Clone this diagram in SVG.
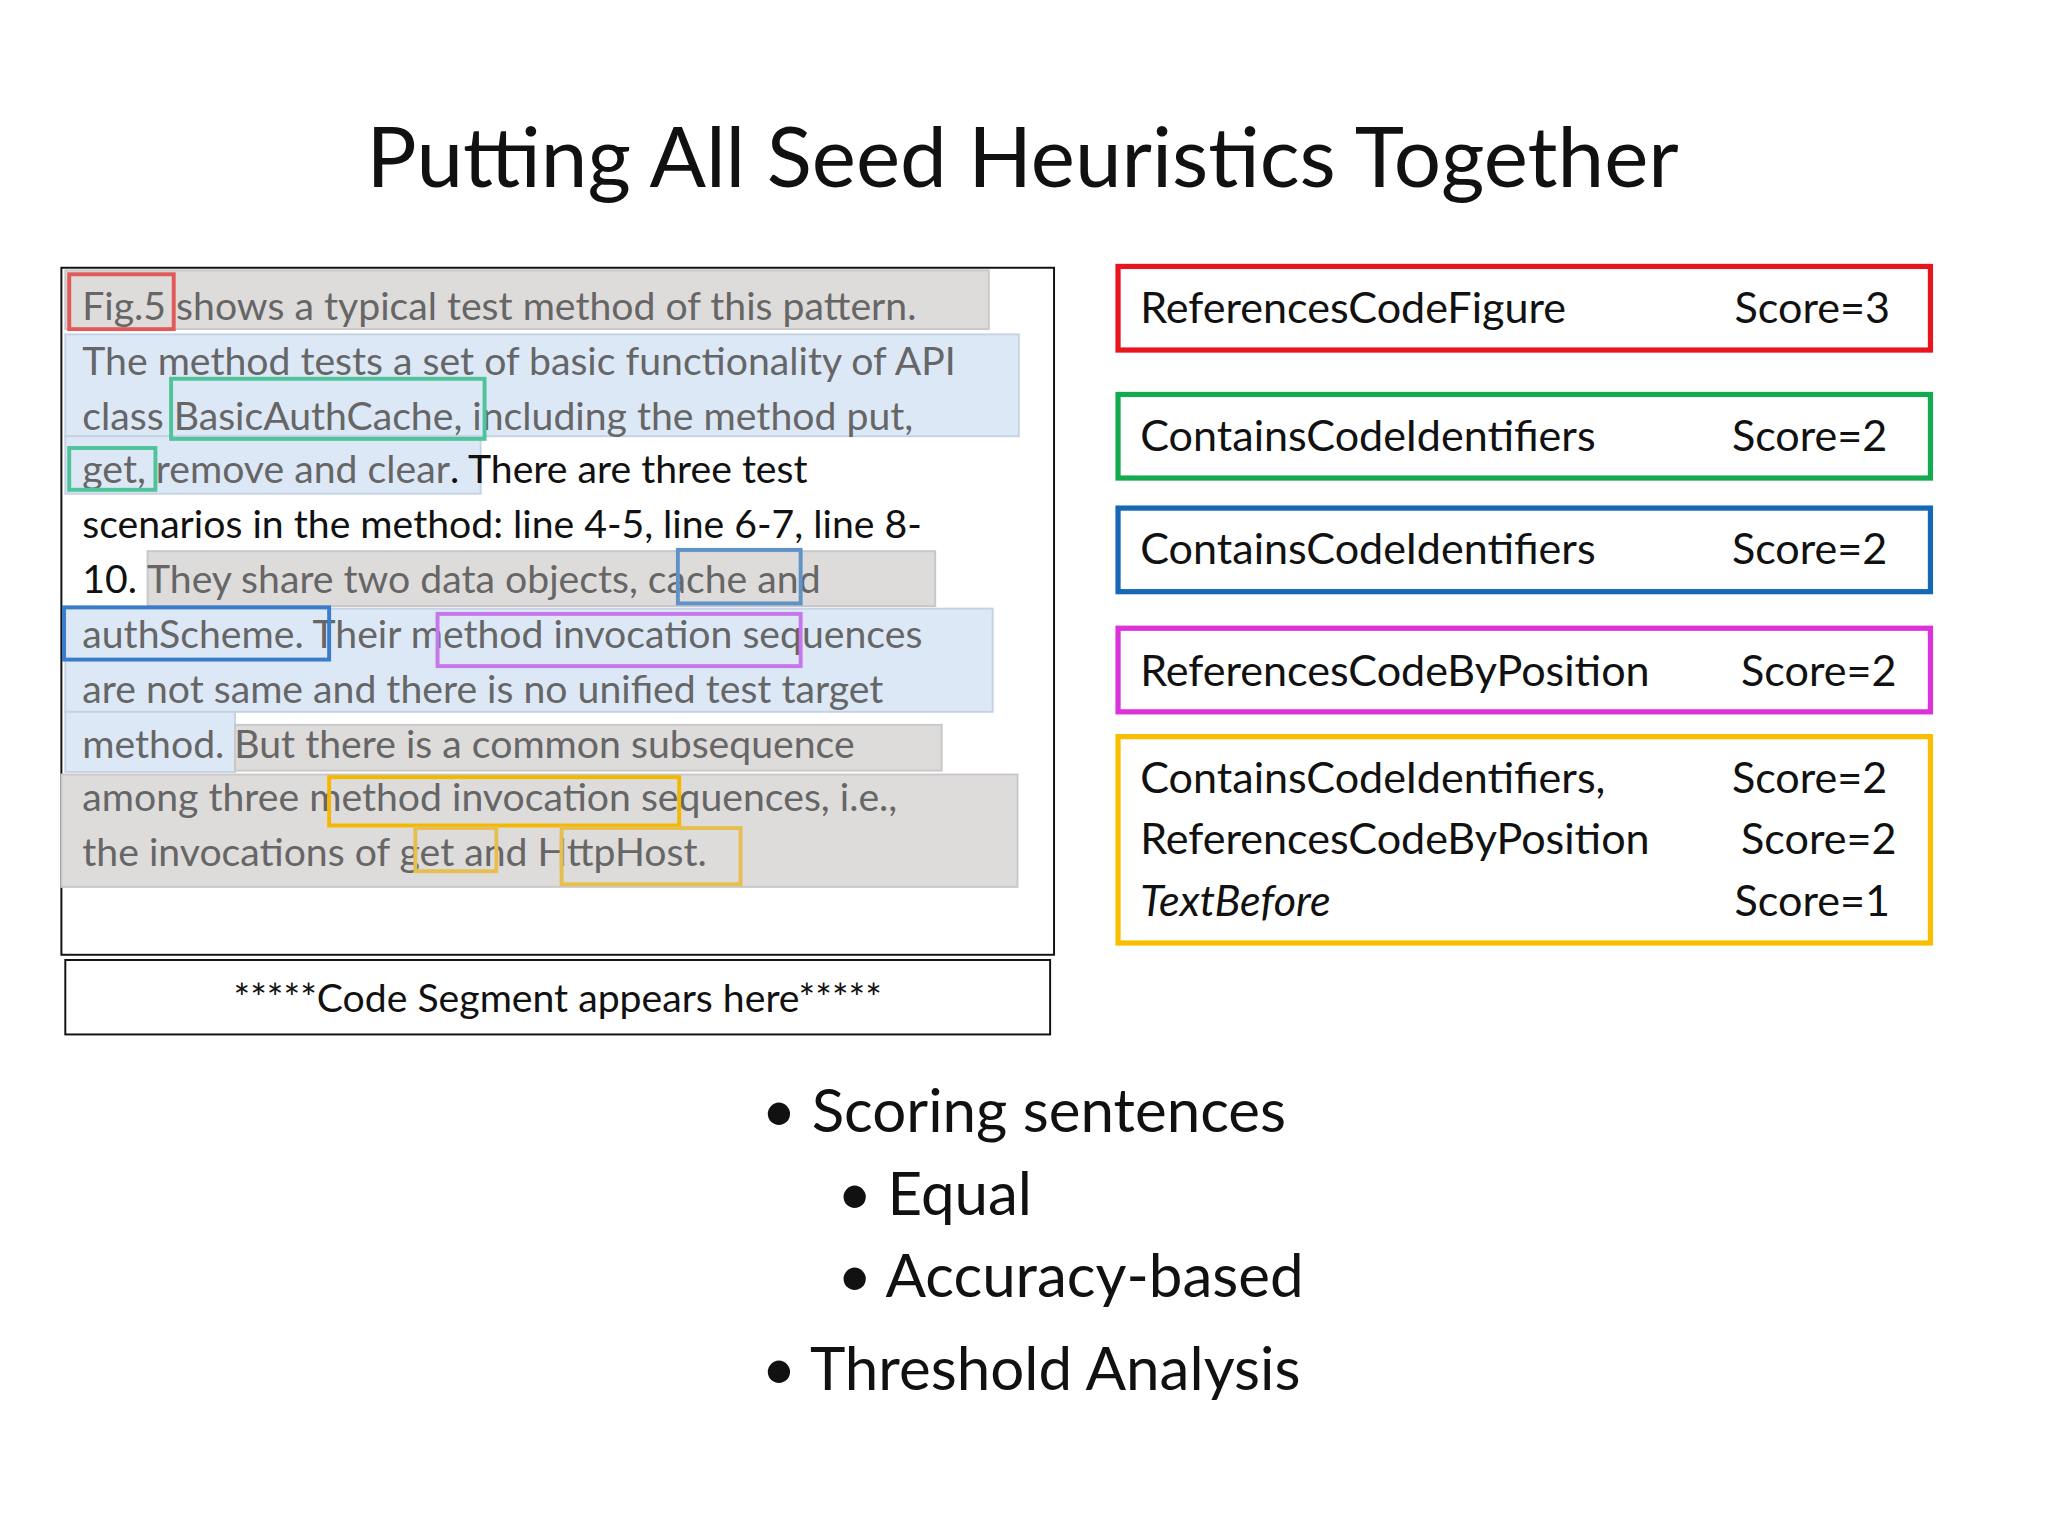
<svg xmlns="http://www.w3.org/2000/svg" width="2048" height="1536" viewBox="0 0 2048 1536">
<style>
text{font-family:Lato,"Open Sans",sans-serif}
.p{font-size:30px;fill:#111}
.g{fill:#666}
.gr{fill:#dedbdb;stroke:#c8c8c8;stroke-width:1.5}
.bl{fill:#dde8f6;stroke:#c4d2e4;stroke-width:1.5}
.o{fill:none;stroke-width:3}
.r{font-size:33px;fill:#111}
.bx{fill:#fff;stroke-width:4}
</style>
<rect width="2048" height="1536" fill="#fff"/>
<g transform="scale(1.30612)">
<text id="title" x="783" y="143" font-size="64" text-anchor="middle" fill="#111">Putting All Seed Heuristics Together</text>
<g id="textbox">
<rect x="47" y="205" width="760" height="526" fill="#fff" stroke="#111" stroke-width="1.5"/>
<rect class="gr" x="50" y="207" width="707" height="45"/>
<rect class="bl" x="50" y="256" width="730" height="78"/>
<rect class="bl" x="50" y="334" width="318" height="44"/>
<rect class="gr" x="113" y="422" width="603" height="42"/>
<rect class="bl" x="50" y="466" width="710" height="79"/>
<rect class="bl" x="50" y="545" width="130" height="46"/>
<rect class="gr" x="180" y="555" width="541" height="35"/>
<rect class="gr" x="47" y="593" width="732" height="86"/>
<text class="p" x="63"><tspan y="245" class="g">Fig.5 shows a typical test method of this pattern.</tspan>
<tspan x="63" y="287" class="g">The method tests a set of basic functionality of API</tspan>
<tspan x="63" y="329" class="g">class BasicAuthCache, including the method put,</tspan>
<tspan x="63" y="370" class="g">get, remove and clear</tspan><tspan>. There are three test</tspan>
<tspan x="63" y="412">scenarios in the method: line 4-5, line 6-7, line 8-</tspan>
<tspan x="63" y="454">10. </tspan><tspan class="g">They share two data objects, cache and</tspan>
<tspan x="63" y="496" class="g">authScheme. Their method invocation sequences</tspan>
<tspan x="63" y="538" class="g">are not same and there is no unified test target</tspan>
<tspan x="63" y="580" class="g">method. But there is a common subsequence</tspan>
<tspan x="63" y="621" class="g">among three method invocation sequences, i.e.,</tspan>
<tspan x="63" y="663" class="g">the invocations of get and HttpHost.</tspan></text>
<rect class="o" stroke="#e05a5a" x="53" y="210" width="80" height="42"/>
<rect class="o" stroke="#4fc39a" x="131" y="290" width="240" height="46"/>
<rect class="o" stroke="#4fc39a" x="53" y="343" width="66" height="32"/>
<rect class="o" stroke="#5f93c8" x="519" y="421" width="94" height="41"/>
<rect class="o" stroke="#3a7cc9" x="49" y="465" width="203" height="40"/>
<rect class="o" stroke="#c777ea" x="335" y="470" width="278" height="40"/>
<rect class="o" stroke="#f4b800" x="252" y="595" width="268" height="37"/>
<rect class="o" stroke="#e6bf50" x="318" y="634" width="62" height="33"/>
<rect class="o" stroke="#e6bf50" x="430" y="634" width="137" height="43"/>
</g>
<g id="codebox">
<rect x="50" y="735" width="754" height="57" fill="#fff" stroke="#111" stroke-width="1.5"/>
<text x="427" y="775" font-size="30" text-anchor="middle" fill="#111">*****Code Segment appears here*****</text>
</g>
<g id="h1"><rect class="bx" stroke="#e8141e" x="856" y="204" width="622" height="64"/><text class="r" x="873" y="247">ReferencesCodeFigure</text><text class="r" x="1328" y="247">Score=3</text></g>
<g id="h2"><rect class="bx" stroke="#14aa50" x="856" y="302" width="622" height="64"/><text class="r" x="873" y="345">ContainsCodeIdentifiers</text><text class="r" x="1326" y="345">Score=2</text></g>
<g id="h3"><rect class="bx" stroke="#1468b4" x="856" y="389" width="622" height="64"/><text class="r" x="873" y="432">ContainsCodeIdentifiers</text><text class="r" x="1326" y="432">Score=2</text></g>
<g id="h4"><rect class="bx" stroke="#dc32dc" x="856" y="481" width="622" height="64"/><text class="r" x="873" y="525">ReferencesCodeByPosition</text><text class="r" x="1333" y="525">Score=2</text></g>
<g id="h5"><rect class="bx" stroke="#fabe00" x="856" y="564" width="622" height="158"/>
<text class="r" x="873" y="607">ContainsCodeIdentifiers,</text><text class="r" x="1326" y="607">Score=2</text>
<text class="r" x="873" y="654">ReferencesCodeByPosition</text><text class="r" x="1333" y="654">Score=2</text>
<text class="r" x="873" y="701" font-style="italic">TextBefore</text><text class="r" x="1328" y="701">Score=1</text></g>
<g id="bullets" font-size="46" fill="#111">
<text x="583" y="867">• Scoring sentences</text>
<text x="641" y="930">• Equal</text>
<text x="641" y="993">• Accuracy-based</text>
<text x="583" y="1064">• Threshold Analysis</text>
</g>
</g>
</svg>
